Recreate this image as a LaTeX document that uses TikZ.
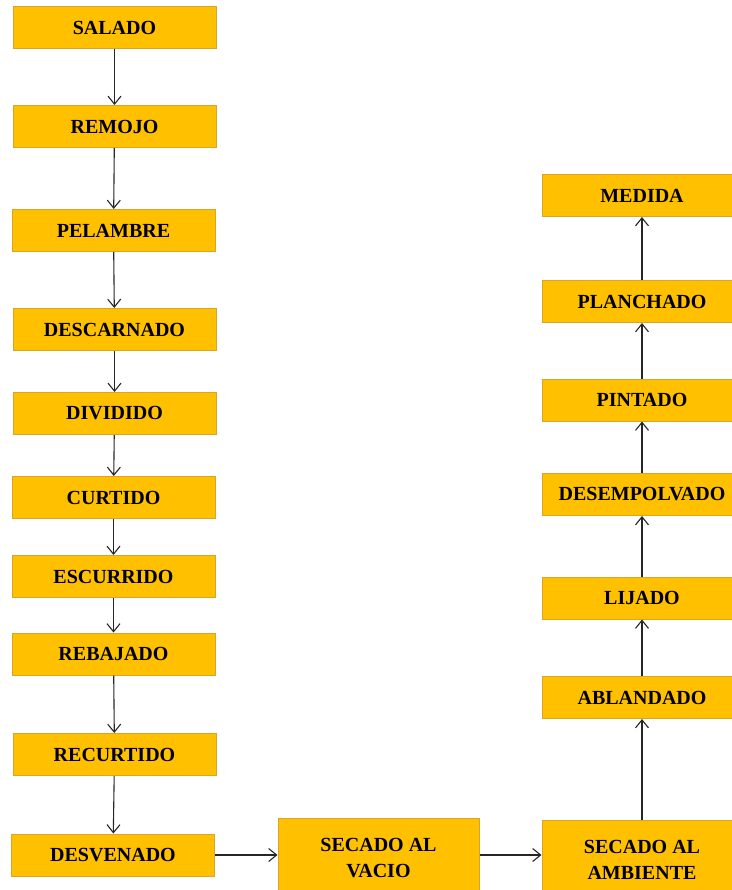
\documentclass[tikz,border=0pt]{standalone}
\usepackage{fontspec}
\setmainfont{Liberation Serif}
\usetikzlibrary{arrows.meta}
\definecolor{boxfill}{HTML}{FFC000}
\definecolor{boxline}{HTML}{D9A42A}
\begin{document}
\begin{tikzpicture}[x=1pt,y=-1pt,
  stepbox/.style={draw=boxline, line width=1pt, fill=boxfill, minimum width=203pt, minimum height=42pt,
    inner sep=0pt, font=\fontsize{20}{26.5}\selectfont\bfseries, align=center, text=black},
  rbox/.style={stepbox, minimum width=200pt},
  flow/.style={draw=black!85, line width=1.1pt, -{Straight Barb[length=8pt,width=13pt,line width=1.1pt]}}]
\useasboundingbox (0,0) rectangle (731,890);
% left column
\node[stepbox] (salado) at (114.5,28) {SALADO};
\node[stepbox] (remojo) at (114.5,126.5) {REMOJO};
\node[stepbox] (pelambre) at (113.5,230.5) {PELAMBRE};
\node[stepbox] (descarnado) at (114.5,329.5) {DESCARNADO};
\node[stepbox] (dividido) at (114.5,413.5) {DIVIDIDO};
\node[stepbox] (curtido) at (113.5,497.5) {CURTIDO};
\node[stepbox] (escurrido) at (113.5,576.5) {ESCURRIDO};
\node[stepbox] (rebajado) at (113.5,654) {REBAJADO};
\node[stepbox] (recurtido) at (114.5,754.5) {RECURTIDO};
\node[stepbox] (desvenado) at (113,855) {DESVENADO};
% bottom row
\node[stepbox, minimum width=201pt, minimum height=80pt] (vacio) at (378.5,858) {SECADO AL\\VACIO};
\node[rbox, minimum height=80pt] (ambiente) at (642,860) {SECADO AL\\AMBIENTE};
% right column
\node[rbox] (ablandado) at (642,697.5) {ABLANDADO};
\node[rbox] (lijado) at (642,598) {LIJADO};
\node[rbox] (desempolvado) at (642,494.5) {DESEMPOLVADO};
\node[rbox] (pintado) at (642,400) {PINTADO};
\node[rbox] (planchado) at (642,301.5) {PLANCHADO};
\node[rbox] (medida) at (642,195.5) {MEDIDA};
% connectors
\draw[flow] (salado) -- (remojo);
\draw[flow] (remojo) -- (pelambre);
\draw[flow] (pelambre) -- (descarnado);
\draw[flow] (descarnado) -- (dividido);
\draw[flow] (dividido) -- (curtido);
\draw[flow] (curtido) -- (escurrido);
\draw[flow] (escurrido) -- (rebajado);
\draw[flow] (rebajado) -- (recurtido);
\draw[flow] (recurtido) -- (desvenado);
\draw[flow] (desvenado.east) -- (vacio.west |- desvenado.east);
\draw[flow] (vacio.east |- desvenado.east) -- (ambiente.west |- desvenado.east);
\draw[flow] (ambiente.north) -- (ablandado.south);
\draw[flow] (ablandado) -- (lijado);
\draw[flow] (lijado) -- (desempolvado);
\draw[flow] (desempolvado) -- (pintado);
\draw[flow] (pintado) -- (planchado);
\draw[flow] (planchado) -- (medida);
\end{tikzpicture}
\end{document}
